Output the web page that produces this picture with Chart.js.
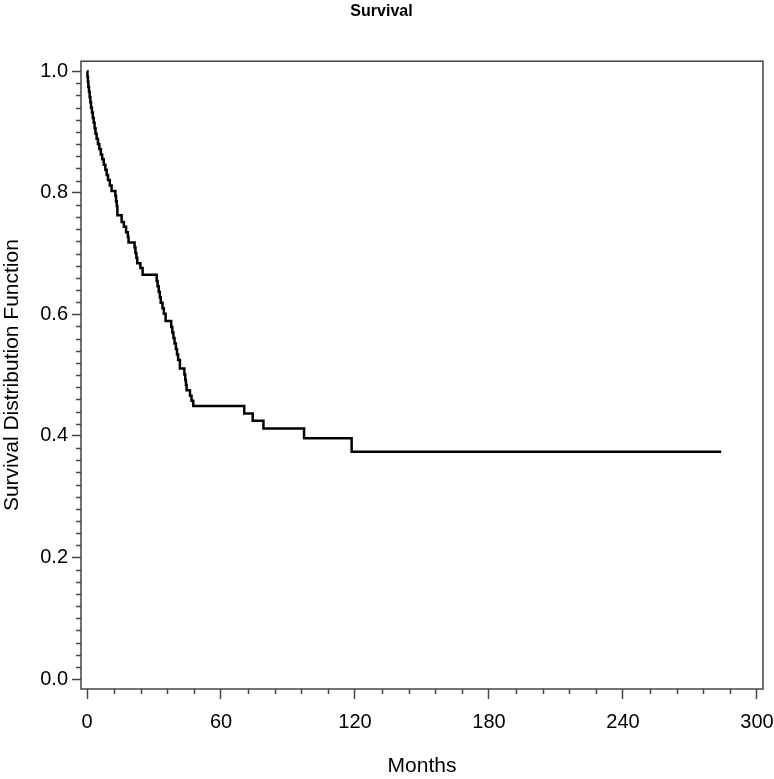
<!DOCTYPE html>
<html>
<head>
<meta charset="utf-8">
<title>Survival</title>
<script src="https://cdn.jsdelivr.net/npm/chart.js@4.4.1/dist/chart.umd.min.js"></script>
<style>
  html, body { margin: 0; padding: 0; background: #fff; }
  #wrap { width: 774px; height: 779px; }
</style>
</head>
<body>
<div id="wrap"><canvas id="chart"></canvas></div>
<script>
// Kaplan-Meier estimate: month of each drop and the survival after it
const months = [0, 0.2, 0.4, 0.6, 0.9, 1.2, 1.5, 1.8, 2.2, 2.6, 3.0, 3.4, 3.8, 4.3, 4.9, 5.5, 6.2, 6.8,
  7.5, 8.2, 8.8, 9.4, 10.2, 11.0, 12.7, 13.0, 13.3, 13.6, 15.5, 16.5, 17.5, 18.3, 18.6,
  21.3, 21.7, 22.1, 22.5, 23.9, 24.9, 31.2, 31.6, 32.1, 32.6, 33.0, 33.8, 34.4, 35.2,
  37.7, 38.2, 38.7, 39.2, 39.8, 40.3, 40.8, 41.6, 43.6, 44.0, 44.3, 44.6, 46.1, 46.8, 47.6,
  70.4, 74.2, 79.0, 97.2, 118.5, 284];
const survival = [1.0, 0.991, 0.983, 0.974, 0.966, 0.957, 0.949, 0.940, 0.932, 0.923, 0.915, 0.906, 0.897, 0.889, 0.880, 0.872, 0.863, 0.855,
  0.846, 0.838, 0.829, 0.821, 0.812, 0.803, 0.795, 0.786, 0.778, 0.763, 0.752, 0.744, 0.735, 0.727, 0.718,
  0.710, 0.701, 0.693, 0.684, 0.676, 0.665, 0.655, 0.646, 0.637, 0.628, 0.619, 0.610, 0.601, 0.589,
  0.579, 0.570, 0.561, 0.552, 0.543, 0.534, 0.525, 0.511, 0.501, 0.492, 0.484, 0.475, 0.466, 0.458, 0.449,
  0.437, 0.425, 0.412, 0.396, 0.374, 0.374];

const xTicks = [0, 60, 120, 180, 240, 300];
const yTicks = [0.0, 0.2, 0.4, 0.6, 0.8, 1.0];
const xMinorStep = 12;
const yMinorStep = 0.02;

const font = "'Liberation Sans', Arial, sans-serif";
const axisGrey = '#444';

// draws the box around the plot and the small minor ticks
const frameAndMinor = {
  id: 'frameAndMinor',
  afterDraw(chart) {
    const {ctx, chartArea: a, scales: {x, y}} = chart;
    ctx.save();
    ctx.strokeStyle = axisGrey;
    ctx.lineWidth = 1.5;
    ctx.strokeRect(a.left, a.top, a.right - a.left, a.bottom - a.top);
    ctx.beginPath();
    for (let i = 0; i * xMinorStep <= xTicks[xTicks.length - 1]; i++) {
      const m = i * xMinorStep;
      if (xTicks.includes(m)) continue;
      const px = Math.round(x.getPixelForValue(m)) + 0.5;
      ctx.moveTo(px, a.bottom);
      ctx.lineTo(px, a.bottom + 5);
    }
    for (let i = 0; i * yMinorStep <= 1.0001; i++) {
      if (i % 10 === 0) continue;
      const py = Math.round(y.getPixelForValue(i * yMinorStep)) + 0.5;
      ctx.moveTo(a.left, py);
      ctx.lineTo(a.left - 5, py);
    }
    ctx.stroke();
    ctx.restore();
  }
};

const ctx = document.getElementById('chart');

new Chart(ctx, {
  type: 'line',
  data: {
    datasets: [{
      label: 'Survival',
      data: months.map((m, i) => ({x: m, y: survival[i]})),
      borderColor: '#000000',
      borderWidth: 2.5,
      pointRadius: 0,
      stepped: 'before',
      fill: false
    }]
  },
  options: {
    responsive: true,
    maintainAspectRatio: false,
    animation: false,
    layout: { padding: { right: 11, left: 0, bottom: 0 } },
    plugins: {
      legend: { display: false },
      tooltip: { enabled: false },
      title: {
        display: true,
        text: 'Survival',
        color: '#000',
        font: { family: font, size: 16, weight: 'bold' },
        padding: { top: 2, bottom: 40 }
      }
    },
    scales: {
      x: {
        type: 'linear',
        min: -2.69,
        max: 302.7,
        afterFit: (s) => { s.height = 90; s.paddingLeft = 0; s.paddingRight = 0; },
        afterBuildTicks: (s) => { s.ticks = xTicks.map(v => ({value: v})); },
        border: { display: false },
        grid: { drawOnChartArea: false, drawTicks: true, tickLength: 10, tickColor: axisGrey, tickWidth: 1.5 },
        ticks: { color: '#000', font: { family: font, size: 20 }, padding: 11, maxRotation: 0 },
        title: { display: true, text: 'Months', color: '#000', font: { family: font, size: 21 }, padding: 0 }
      },
      y: {
        type: 'linear',
        min: -0.0164,
        max: 1.0164,
        afterFit: (s) => { s.width = 81; s.paddingTop = 0; s.paddingBottom = 0; },
        afterBuildTicks: (s) => { s.ticks = yTicks.map(v => ({value: v})); },
        border: { display: false },
        grid: { drawOnChartArea: false, drawTicks: true, tickLength: 9, tickColor: axisGrey, tickWidth: 1.5 },
        ticks: { color: '#000', font: { family: font, size: 20 }, padding: 4,
          callback: (v) => Number(v).toFixed(1) },
        title: { display: true, text: 'Survival Distribution Function', color: '#000', font: { family: font, size: 21 }, padding: 0 }
      }
    }
  },
  plugins: [frameAndMinor]
});
</script>
</body>
</html>
